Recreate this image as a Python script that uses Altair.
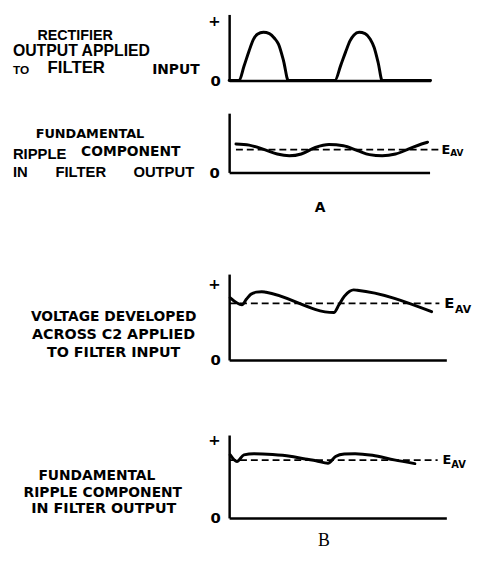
import altair as alt
import pandas as pd

# ---------------- data ----------------
# Panel 1: rectifier output applied to filter input (two humps)
p1_t = [0, 4.9, 7.4, 9.8, 12, 14, 17, 20, 22.5, 24.5, 27, 29.4,
        52.5, 55.4, 57.8, 60, 62, 64.5, 67.5, 70, 72, 74, 76, 100]
p1_v = [0, 0, 22, 44, 62, 70, 73, 71, 64, 55, 30, 0,
        0, 23, 43, 60, 69, 73, 71, 63, 50, 27, 0, 0]
p1_plus = 91

# Panel 2: fundamental ripple component in filter output (A)
p2_t = [3.4, 10, 18, 24, 30, 36, 43, 49.8, 57, 64, 70, 76.4, 83, 90, 96, 99]
p2_v = [48, 46, 38, 31, 28, 31, 42, 47, 45, 37, 30, 28, 31, 40, 48, 51]
p2_eav = 38.3
p2_dash = [3.4, 104.9]
p2_e_at = 105.9

# Panel 3: voltage developed across C2 applied to filter input
p3_t = [0.5, 5.9, 8, 10, 12.5, 15, 17, 48.2, 50.5, 53, 55.5, 57.3, 59, 93.2]
p3_v = [72.4, 64.4, 71, 76.5, 79, 79.5, 78.8, 55.2, 64, 74, 80, 81.6, 81.2, 56.3]
p3_eav = 66.0
p3_dash = [0, 96.8]
p3_e_at = 99
p3_plus = 88.5

# Panel 4: fundamental ripple component in filter output (B)
p4_t = [0.5, 3.6, 6.8, 11.4, 20, 28, 35, 40, 45.5, 49, 53, 58, 66, 76, 85.5]
p4_v = [76, 68, 76, 77.4, 76.5, 74.5, 71, 69, 66, 74, 77, 77.5, 75.5, 70, 65.5]
p4_eav = 69.6
p4_dash = [0, 96]
p4_e_at = 98.2
p4_plus = 94

# Texts
p1_labels = ["RECTIFIER", "OUTPUT APPLIED", "TO", "FILTER", "INPUT"]
p2_labels = ["FUNDAMENTAL", "RIPPLE", "COMPONENT", "IN", "FILTER", "OUTPUT"]
p3_labels = ["VOLTAGE DEVELOPED", "ACROSS C2 APPLIED", "TO FILTER INPUT"]
p4_labels = ["FUNDAMENTAL", "RIPPLE COMPONENT", "IN FILTER OUTPUT"]
eav_text = ["E", "AV"]
panel_letters = ["A", "B"]

# ---------------- helpers ----------------
XS = alt.Scale(domain=[0, 100], nice=False, zero=False)
YS = alt.Scale(domain=[0, 100], nice=False, zero=False)
XAX = alt.Axis(labels=False, ticks=False, grid=False, domainColor="black", domainWidth=2.5)


def yax(values, pad):
    return alt.Axis(values=values, labelExpr="datum.value == 0 ? '0' : '+'", ticks=False, grid=False,
                    domainColor="black", domainWidth=2.5, labelFont="DejaVu Sans", labelFontSize=15,
                    labelFontWeight="bold", labelColor="black", labelPadding=pad,
                    labelFlush=False, labelOverlap=False)


def enc_xy(yaxis):
    return dict(x=alt.X("t:Q", scale=XS, axis=XAX, title=None),
                y=alt.Y("v:Q", scale=YS, axis=yaxis, title=None))


def curve(t, v, yaxis):
    df = pd.DataFrame({"t": t, "v": v})
    return alt.Chart(df).mark_line(color="black", strokeWidth=3, interpolate="monotone",
                                   strokeCap="round", strokeJoin="round").encode(**enc_xy(yaxis))


def dashed(dash, level, yaxis):
    df = pd.DataFrame({"t": [dash[0]], "t2": [dash[1]], "v": [level]})
    return alt.Chart(df).mark_rule(color="black", strokeWidth=1.8, strokeDash=[7, 4]).encode(
        x2="t2:Q", **enc_xy(yaxis))


def eav(at, level, yaxis, esize, avsize, dx, dy):
    df = pd.DataFrame({"t": [at], "v": [level]})
    e = alt.Chart(df).mark_text(text=eav_text[0], align="left", baseline="middle", font="DejaVu Sans",
                                fontWeight="bold", fontSize=esize, color="black").encode(**enc_xy(yaxis))
    av = alt.Chart(df).mark_text(text=eav_text[1], align="left", baseline="middle", font="DejaVu Sans",
                                 fontWeight="bold", fontSize=avsize, color="black", dx=dx, dy=dy
                                 ).encode(**enc_xy(yaxis))
    return [e, av]


def label(txt, x, y, size, weight="bold", font="DejaVu Sans", align="left"):
    return alt.Chart(pd.DataFrame({"k": [0]})).mark_text(
        text=txt, align=align, baseline="middle", font=font, fontSize=size, fontWeight=weight,
        color="black").encode(x=alt.value(x), y=alt.value(y))


def spacer(h):
    return alt.Chart(pd.DataFrame({"s": [0]})).mark_point(opacity=0).encode(
        x=alt.X("s:Q", axis=None), y=alt.Y("s:Q", axis=None)).properties(width=10, height=h)


# ---------------- panel 1 ----------------
ya1 = yax([0, p1_plus], 9)
P1 = alt.layer(
    curve(p1_t, p1_v, ya1),
    label(p1_labels[0], -156, 22, 14.5, font="Liberation Sans", align="center"),
    label(p1_labels[1], -219, 37, 16, font="Liberation Sans"),
    label(p1_labels[2], -219, 56, 12, font="Liberation Sans"),
    label(p1_labels[3], -184, 54, 17, font="Liberation Sans"),
    label(p1_labels[4], -78, 56, 14),
).properties(width=204, height=67)

# ---------------- panel 2 ----------------
ya2 = yax([0], 10)
P2 = alt.layer(
    curve(p2_t, p2_v, ya2),
    dashed(p2_dash, p2_eav, ya2),
    *eav(p2_e_at, p2_eav, ya2, 13, 9, 9, 3),
    label(p2_labels[0], -141, 21, 13, align="center"),
    label(p2_labels[1], -219, 41, 15, font="Liberation Sans"),
    label(p2_labels[2], -150, 39, 14),
    label(p2_labels[3], -219, 60, 15, font="Liberation Sans"),
    label(p2_labels[4], -176, 60, 15, font="Liberation Sans"),
    label(p2_labels[5], -97, 60, 15, font="Liberation Sans"),
    label(panel_letters[0], 92, 96, 14, align="center"),
).properties(width=203, height=60)

# ---------------- panel 3 ----------------
ya3 = yax([0, p3_plus], 9)
P3 = alt.layer(
    curve(p3_t, p3_v, ya3),
    dashed(p3_dash, p3_eav, ya3),
    *eav(p3_e_at, p3_eav, ya3, 15, 11, 11, 7),
    label(p3_labels[0], -117, 44, 14, align="center"),
    label(p3_labels[1], -117, 62, 14.5, align="center"),
    label(p3_labels[2], -117, 79.5, 14.5, align="center"),
).properties(width=220, height=87)

# ---------------- panel 4 ----------------
ya4 = yax([0, p4_plus], 9)
P4 = alt.layer(
    curve(p4_t, p4_v, ya4),
    dashed(p4_dash, p4_eav, ya4),
    *eav(p4_e_at, p4_eav, ya4, 13, 10, 9, 5),
    label(p4_labels[0], -134, 42, 14, align="center"),
    label(p4_labels[1], -128, 59, 14, align="center"),
    label(p4_labels[2], -127, 75, 14.5, align="center"),
    label(panel_letters[1], 96, 107, 18, weight="normal", font="Liberation Serif", align="center"),
).properties(width=220, height=84)

chart = alt.vconcat(
    P1, spacer(33), P2, spacer(103), P3, spacer(76), P4, spacing=0, bounds="flush"
).configure_view(strokeWidth=0).properties(
    padding={"left": 5, "top": 2, "right": 1, "bottom": 1}
)

chart.save("out.html", embed_options={"renderer": "svg", "actions": False})
